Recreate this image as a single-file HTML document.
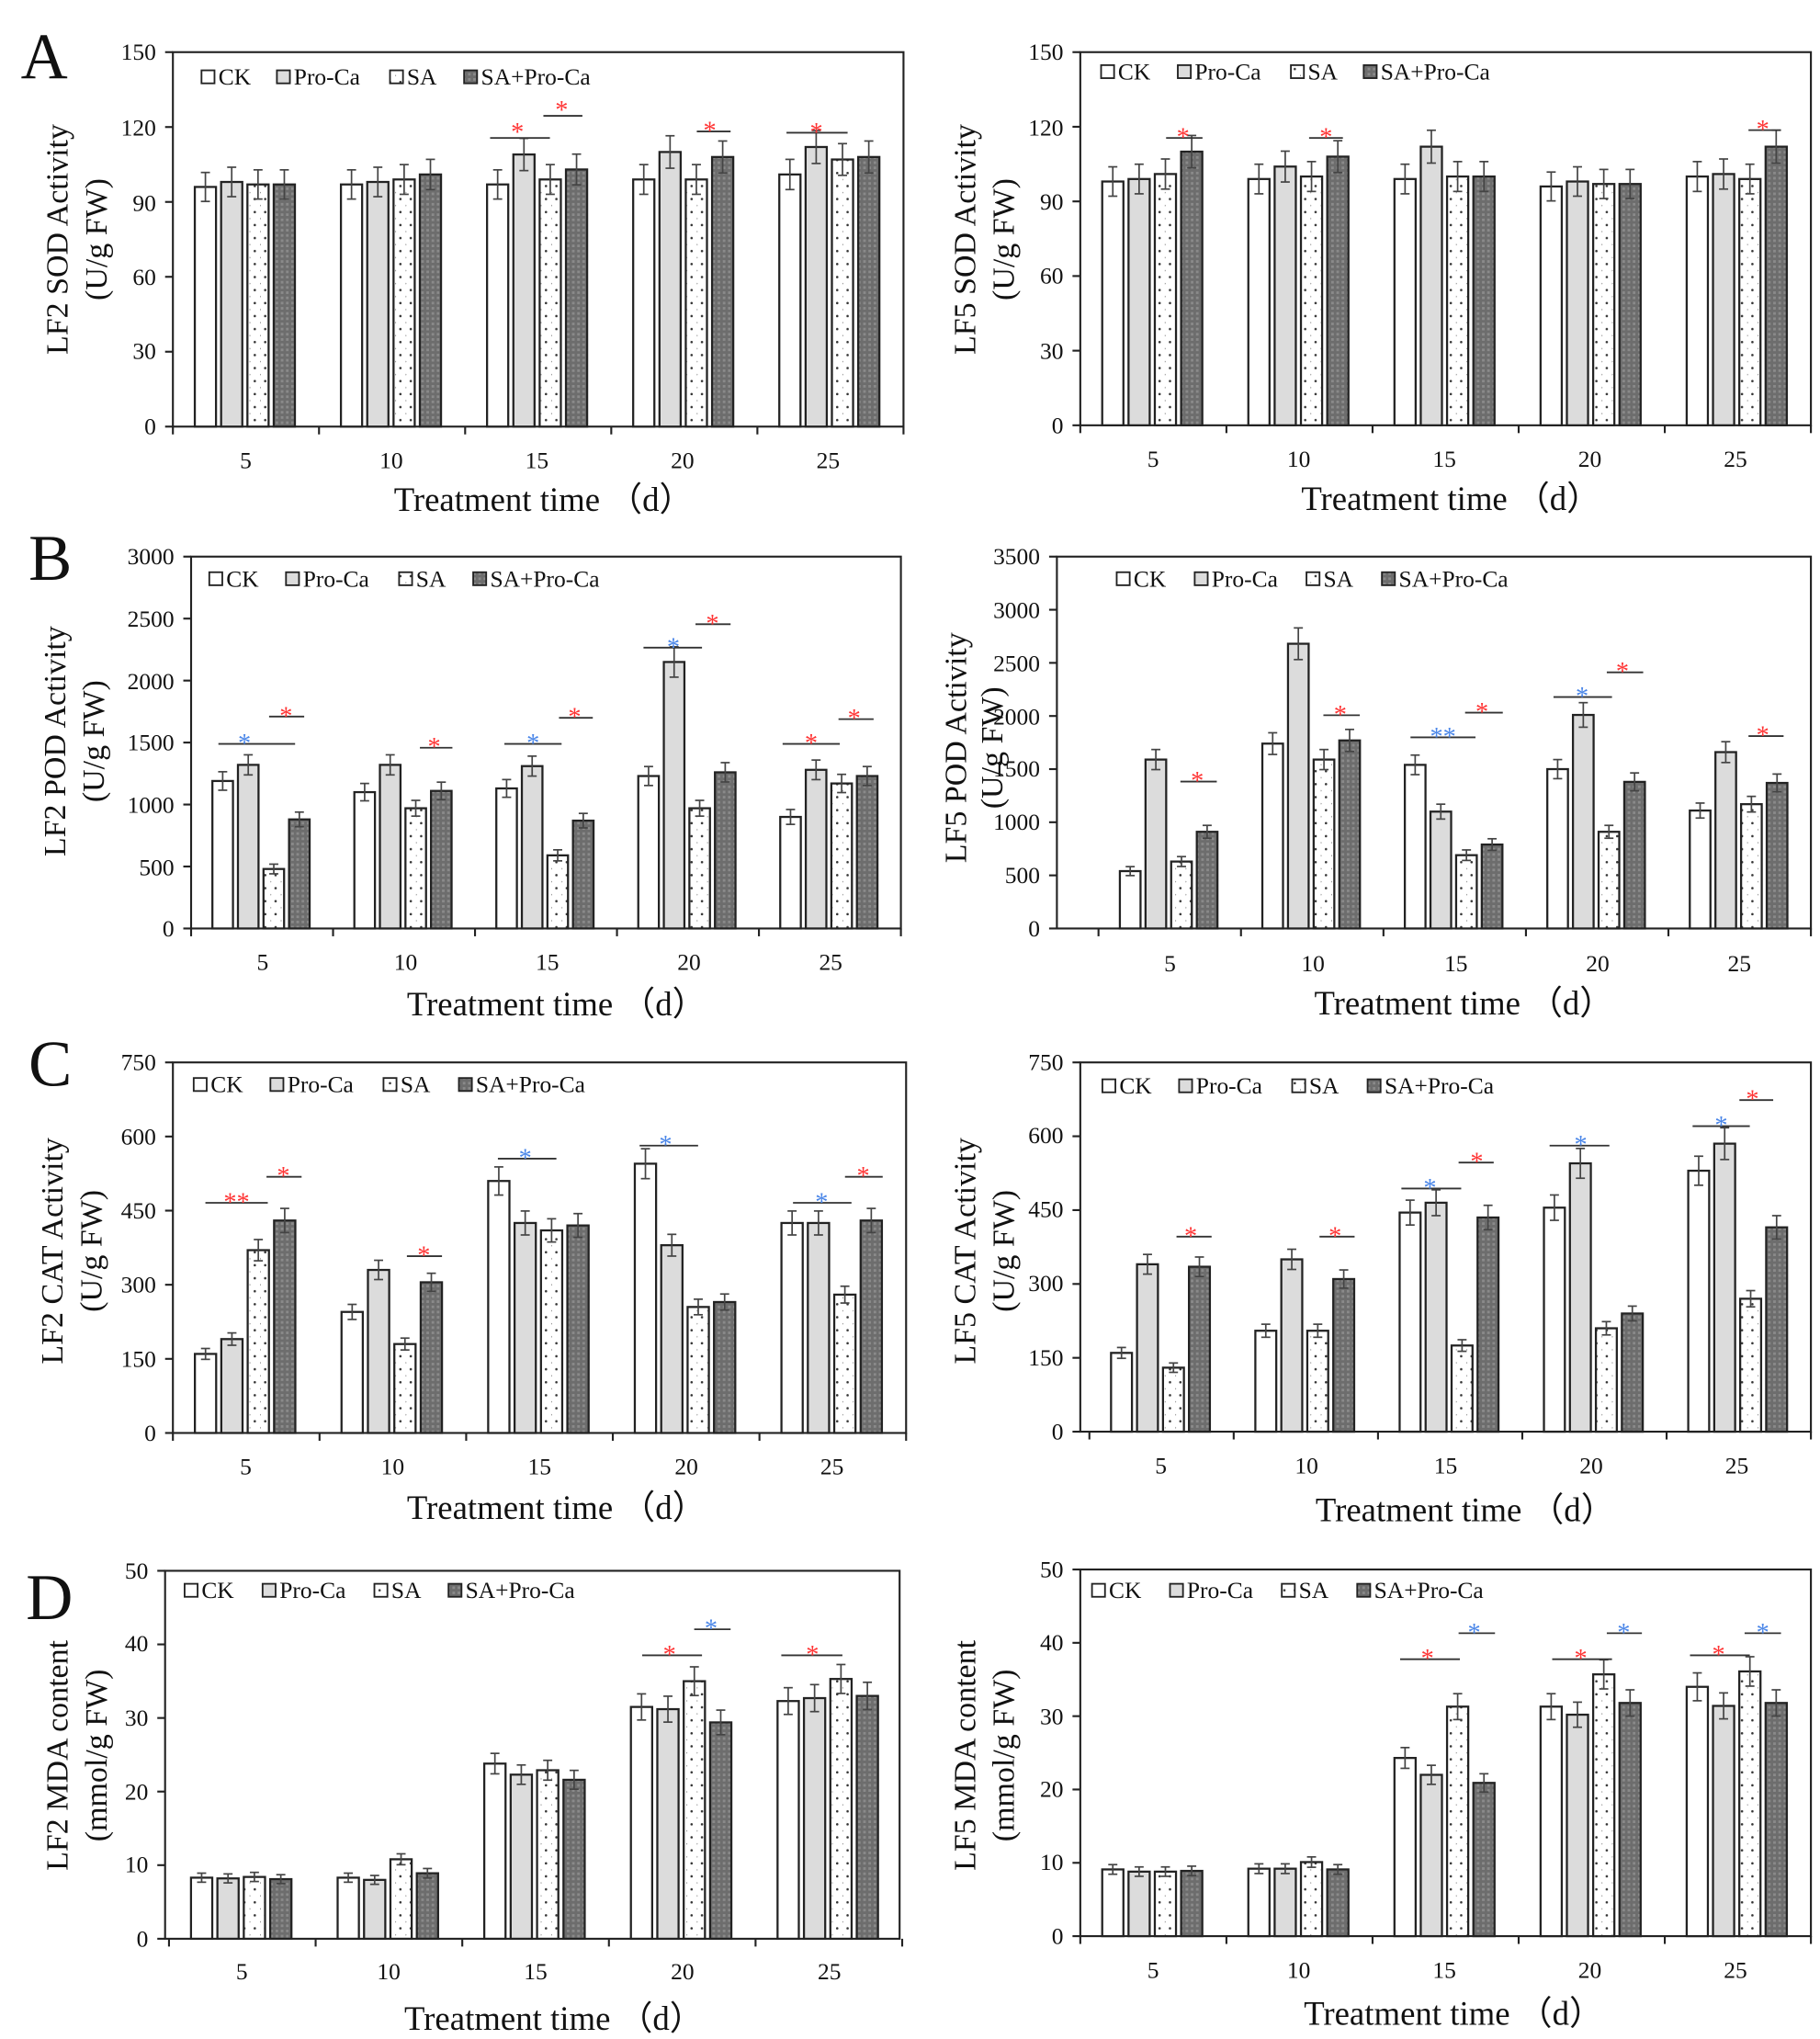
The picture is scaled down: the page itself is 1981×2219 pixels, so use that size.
<!DOCTYPE html>
<html><head><meta charset="utf-8"><style>html,body{margin:0;padding:0;background:#fff}svg{display:block}text{font-family:"Liberation Serif",serif;fill:#111}</style></head>
<body>
<svg id="s" xmlns="http://www.w3.org/2000/svg" width="1981" height="2219" viewBox="0 0 1400 1568">
<defs>
<pattern id="dots" width="8" height="10" patternUnits="userSpaceOnUse"><rect width="8" height="10" fill="#fff"/><circle cx="4" cy="3" r="0.9" fill="#333"/><circle cx="0" cy="8" r="0.6" fill="#777"/></pattern>
<pattern id="grid" width="4" height="4" patternUnits="userSpaceOnUse"><rect width="4" height="4" fill="#6d6d6d"/><rect width="2" height="2" fill="#8a8a8a"/></pattern>
</defs>
<g id="g"></g>
<text x="16" y="60" font-size="50">A</text>
<text x="22" y="446" font-size="50">B</text>
<text x="22" y="835" font-size="50">C</text>
<text x="20" y="1245" font-size="50">D</text>
<g font-size="24" text-anchor="middle">
<text transform="translate(52,184) rotate(-90)">LF2 SOD Activity</text>
<text transform="translate(82,184) rotate(-90)">(U/g FW)</text>
<text transform="translate(750,184) rotate(-90)">LF5 SOD Activity</text>
<text transform="translate(780,184) rotate(-90)">(U/g FW)</text>
<text transform="translate(50,570) rotate(-90)">LF2 POD Activity</text>
<text transform="translate(80,570) rotate(-90)">(U/g FW)</text>
<text transform="translate(743,575) rotate(-90)">LF5 POD Activity</text>
<text transform="translate(771,575) rotate(-90)">(U/g FW)</text>
<text transform="translate(48,962) rotate(-90)">LF2 CAT Activity</text>
<text transform="translate(78,962) rotate(-90)">(U/g FW)</text>
<text transform="translate(750,962) rotate(-90)">LF5 CAT Activity</text>
<text transform="translate(780,962) rotate(-90)">(U/g FW)</text>
<text transform="translate(52,1350) rotate(-90)">LF2 MDA content</text>
<text transform="translate(82,1350) rotate(-90)">(mmol/g FW)</text>
<text transform="translate(750,1350) rotate(-90)">LF5 MDA content</text>
<text transform="translate(780,1350) rotate(-90)">(mmol/g FW)</text>
</g>
<g font-size="26" text-anchor="middle">
<text x="418" y="393">Treatment time （d）</text>
<text x="1116" y="392">Treatment time （d）</text>
<text x="428" y="781">Treatment time （d）</text>
<text x="1126" y="780">Treatment time （d）</text>
<text x="428" y="1168">Treatment time （d）</text>
<text x="1127" y="1170">Treatment time （d）</text>
<text x="426" y="1561">Treatment time （d）</text>
<text x="1118" y="1557">Treatment time （d）</text>
</g>
<g font-size="18">
<text x="168" y="65">CK</text><text x="226" y="65">Pro-Ca</text><text x="313" y="65">SA</text><text x="370" y="65">SA+Pro-Ca</text>
<text x="860" y="61">CK</text><text x="919" y="61">Pro-Ca</text><text x="1006" y="61">SA</text><text x="1062" y="61">SA+Pro-Ca</text>
<text x="174" y="451">CK</text><text x="233" y="451">Pro-Ca</text><text x="320" y="451">SA</text><text x="377" y="451">SA+Pro-Ca</text>
<text x="872" y="451">CK</text><text x="932" y="451">Pro-Ca</text><text x="1018" y="451">SA</text><text x="1076" y="451">SA+Pro-Ca</text>
<text x="162" y="840">CK</text><text x="221" y="840">Pro-Ca</text><text x="308" y="840">SA</text><text x="366" y="840">SA+Pro-Ca</text>
<text x="861" y="841">CK</text><text x="920" y="841">Pro-Ca</text><text x="1007" y="841">SA</text><text x="1065" y="841">SA+Pro-Ca</text>
<text x="155" y="1229">CK</text><text x="215" y="1229">Pro-Ca</text><text x="301" y="1229">SA</text><text x="358" y="1229">SA+Pro-Ca</text>
<text x="853" y="1229">CK</text><text x="913" y="1229">Pro-Ca</text><text x="999" y="1229">SA</text><text x="1057" y="1229">SA+Pro-Ca</text>
</g>
<g font-size="18" text-anchor="end">
<text x="120" y="334">0</text><text x="120" y="276">30</text><text x="120" y="219">60</text><text x="120" y="162">90</text><text x="120" y="104">120</text><text x="120" y="46">150</text>
<text x="818" y="333">0</text><text x="818" y="276">30</text><text x="818" y="218">60</text><text x="818" y="161">90</text><text x="818" y="104">120</text><text x="818" y="46">150</text>
<text x="134" y="720">0</text><text x="134" y="673">500</text><text x="134" y="625">1000</text><text x="134" y="577">1500</text><text x="134" y="530">2000</text><text x="134" y="482">2500</text><text x="134" y="434">3000</text>
<text x="800" y="720">0</text><text x="800" y="679">500</text><text x="800" y="638">1000</text><text x="800" y="597">1500</text><text x="800" y="557">2000</text><text x="800" y="516">2500</text><text x="800" y="475">3000</text><text x="800" y="434">3500</text>
<text x="120" y="1108">0</text><text x="120" y="1051">150</text><text x="120" y="994">300</text><text x="120" y="937">450</text><text x="120" y="880">600</text><text x="120" y="823">750</text>
<text x="818" y="1107">0</text><text x="818" y="1050">150</text><text x="818" y="993">300</text><text x="818" y="936">450</text><text x="818" y="879">600</text><text x="818" y="823">750</text>
<text x="114" y="1497">0</text><text x="114" y="1440">10</text><text x="114" y="1384">20</text><text x="114" y="1327">30</text><text x="114" y="1270">40</text><text x="114" y="1214">50</text>
<text x="818" y="1495">0</text><text x="818" y="1438">10</text><text x="818" y="1382">20</text><text x="818" y="1326">30</text><text x="818" y="1269">40</text><text x="818" y="1213">50</text>
</g>
<g font-size="18" text-anchor="middle">
<text x="189" y="360">5</text><text x="301" y="360">10</text><text x="413" y="360">15</text><text x="525" y="360">20</text><text x="637" y="360">25</text>
<text x="887" y="359">5</text><text x="999" y="359">10</text><text x="1111" y="359">15</text><text x="1223" y="359">20</text><text x="1335" y="359">25</text>
<text x="202" y="746">5</text><text x="312" y="746">10</text><text x="421" y="746">15</text><text x="530" y="746">20</text><text x="639" y="746">25</text>
<text x="900" y="747">5</text><text x="1010" y="747">10</text><text x="1120" y="747">15</text><text x="1229" y="747">20</text><text x="1338" y="747">25</text>
<text x="189" y="1134">5</text><text x="302" y="1134">10</text><text x="415" y="1134">15</text><text x="528" y="1134">20</text><text x="640" y="1134">25</text>
<text x="893" y="1133">5</text><text x="1005" y="1133">10</text><text x="1112" y="1133">15</text><text x="1224" y="1133">20</text><text x="1336" y="1133">25</text>
<text x="186" y="1522">5</text><text x="299" y="1522">10</text><text x="412" y="1522">15</text><text x="525" y="1522">20</text><text x="638" y="1522">25</text>
<text x="887" y="1521">5</text><text x="999" y="1521">10</text><text x="1111" y="1521">15</text><text x="1223" y="1521">20</text><text x="1335" y="1521">25</text>
</g>
<g font-size="20" text-anchor="middle" font-family="Liberation Sans,sans-serif">
<text x="398" y="108" style="fill:#f33">*</text><text x="432" y="91" style="fill:#f33">*</text><text x="546" y="107" style="fill:#f33">*</text><text x="628" y="108" style="fill:#f33">*</text>
<text x="910" y="112" style="fill:#f33">*</text><text x="1020" y="112" style="fill:#f33">*</text><text x="1356" y="106" style="fill:#f33">*</text>
<text x="188" y="578" style="fill:#4a86e8">*</text><text x="220" y="557" style="fill:#f33">*</text><text x="334" y="581" style="fill:#f33">*</text><text x="410" y="578" style="fill:#4a86e8">*</text><text x="442" y="558" style="fill:#f33">*</text><text x="518" y="504" style="fill:#4a86e8">*</text><text x="548" y="486" style="fill:#f33">*</text><text x="624" y="578" style="fill:#f33">*</text><text x="657" y="559" style="fill:#f33">*</text>
<text x="921" y="607" style="fill:#f33">*</text><text x="1031" y="556" style="fill:#f33">*</text><text x="1110" y="573" style="fill:#4a86e8">**</text><text x="1140" y="554" style="fill:#f33">*</text><text x="1217" y="542" style="fill:#4a86e8">*</text><text x="1248" y="523" style="fill:#f33">*</text><text x="1356" y="572" style="fill:#f33">*</text>
<text x="182" y="931" style="fill:#f33">**</text><text x="218" y="911" style="fill:#f33">*</text><text x="326" y="972" style="fill:#f33">*</text><text x="404" y="897" style="fill:#4a86e8">*</text><text x="512" y="887" style="fill:#4a86e8">*</text><text x="632" y="931" style="fill:#4a86e8">*</text><text x="664" y="911" style="fill:#f33">*</text>
<text x="916" y="957" style="fill:#f33">*</text><text x="1027" y="957" style="fill:#f33">*</text><text x="1100" y="920" style="fill:#4a86e8">*</text><text x="1136" y="900" style="fill:#f33">*</text><text x="1216" y="887" style="fill:#4a86e8">*</text><text x="1324" y="872" style="fill:#4a86e8">*</text><text x="1348" y="852" style="fill:#f33">*</text>
<text x="515" y="1279" style="fill:#f33">*</text><text x="547" y="1259" style="fill:#4a86e8">*</text><text x="625" y="1279" style="fill:#f33">*</text>
<text x="1098" y="1282" style="fill:#f33">*</text><text x="1134" y="1262" style="fill:#4a86e8">*</text><text x="1216" y="1282" style="fill:#f33">*</text><text x="1249" y="1262" style="fill:#4a86e8">*</text><text x="1322" y="1279" style="fill:#f33">*</text><text x="1356" y="1262" style="fill:#4a86e8">*</text>
</g>
</svg>
<script>
var NS="http://www.w3.org/2000/svg",G=document.getElementById("g");
function el(t,a){var e=document.createElementNS(NS,t);for(var k in a)e.setAttribute(k,a[k]);G.appendChild(e);return e;}
var fills=["#fff","#dcdcdc","url(#dots)","url(#grid)"];
// [boxL, boxR, top, bottom, max, data, errbase, legendTextX, legendY, groupStartX, groupW]
var P=[
[133,695,40,328,150,[[96,98,97,97],[97,98,99,101],[97,109,99,103],[99,110,99,108],[101,112,107,108]],1,[168,226,313,370],65,133,112.4],
[831,1393,40,327,150,[[98,99,101,110],[99,104,100,108],[99,112,100,100],[96,98,97,97],[100,101,99,112]],1,[860,919,1006,1062],61,831,112.4],
[147,693,428,714,3000,[[1190,1320,480,880],[1100,1320,970,1110],[1130,1310,590,870],[1230,2150,970,1260],[900,1280,1170,1230]],15,[174,233,320,377],451,147,109.2],
[813,1393,428,714,3500,[[540,1590,630,910],[1740,2680,1590,1770],[1540,1100,690,790],[1500,2010,910,1380],[1110,1660,1170,1370]],15,[872,932,1018,1076],451,845,109.6],
[133,697,817,1102,750,[[160,190,370,430],[245,330,180,305],[510,425,410,420],[545,380,255,265],[425,425,280,430]],3,[162,221,308,366],840,133,112.8],
[831,1393,817,1101,750,[[160,340,130,335],[205,350,205,310],[445,465,175,435],[455,545,210,240],[530,585,270,415]],3,[861,920,1007,1065],841,838,111],
[127,692,1208,1491,50,[[8.3,8.2,8.4,8.1],[8.3,8,10.8,8.9],[23.8,22.3,22.9,21.6],[31.5,31.2,35,29.4],[32.3,32.7,35.3,33]],0.2,[155,215,301,358],1229,130,112.8],
[831,1393,1207,1489,50,[[9.1,8.8,8.8,8.9],[9.2,9.2,10.1,9.1],[24.3,22,31.3,20.9],[31.3,30.2,35.7,31.8],[34,31.4,36.1,31.8]],0.2,[853,913,999,1057],1229,831,112.4]
];
var ntk=[5,5,6,7,5,5,5,5];
P.forEach(function(p,pi){
 var x0=p[0],x1=p[1],yt=p[2],yb=p[3],mx=p[4],h=yb-yt,gs=p[9],gw=p[10],bw=gw*0.145,pitch=gw*0.18,off=gw*0.15;
 el("rect",{x:x0,y:yt,width:x1-x0,height:h,fill:"none",stroke:"#222","stroke-width":1.5});
 for(var i=0;i<=ntk[pi];i++){var y=yb-h*i/ntk[pi];el("line",{x1:x0-6,x2:x0,y1:y,y2:y,stroke:"#222","stroke-width":1.5});}
 for(var i=0;i<=5;i++){var x=gs+gw*i;if(x>x1+2)continue;el("line",{x1:x,x2:x,y1:yb,y2:yb+6,stroke:"#222","stroke-width":1.5});}
 p[5].forEach(function(gv,gi){gv.forEach(function(v,bi){
  var x=gs+gi*gw+off+bi*pitch,y=yb-h*v/mx,bh=yb-y;
  el("rect",{x:x,y:y,width:bw,height:bh,fill:fills[bi],stroke:"#222","stroke-width":1.6});
  var e=h*(p[6]+v*0.05)/mx;var cx=x+bw/2;
  el("line",{x1:cx,x2:cx,y1:y-e,y2:y+e,stroke:"#444","stroke-width":1.2});
  el("line",{x1:cx-3.5,x2:cx+3.5,y1:y-e,y2:y-e,stroke:"#444","stroke-width":1.2});
  el("line",{x1:cx-3.5,x2:cx+3.5,y1:y+e,y2:y+e,stroke:"#444","stroke-width":1.2});
 });});
 p[7].forEach(function(lx,li){el("rect",{x:lx-13,y:p[8]-11,width:10,height:10,fill:fills[li],stroke:"#222","stroke-width":1.3});});
});
var L=[[377,423,106],[418,448,89],[536,562,101],[605,652,102],[897,925,106],[1007,1033,106],[1345,1370,100],
[168,227,572],[207,234,551],[323,348,575],[388,432,572],[430,456,552],[495,540,498],[535,562,480],[602,646,572],[645,672,553],
[908,936,601],[1018,1046,550],[1085,1135,567],[1127,1156,548],[1195,1240,536],[1236,1264,517],[1345,1372,566],
[158,206,925],[205,232,905],[313,340,966],[383,428,891],[492,537,881],[610,655,925],[650,679,905],
[905,932,951],[1015,1042,951],[1078,1124,914],[1122,1149,894],[1192,1238,881],[1302,1346,866],[1338,1364,846],
[494,540,1273],[534,562,1253],[601,648,1273],[1077,1123,1276],[1122,1150,1256],[1194,1240,1276],[1236,1263,1256],[1300,1346,1273],[1342,1370,1256]];
L.forEach(function(l){el("line",{x1:l[0],x2:l[1],y1:l[2],y2:l[2],stroke:"#333","stroke-width":1.3});});
</script>
</body></html>
